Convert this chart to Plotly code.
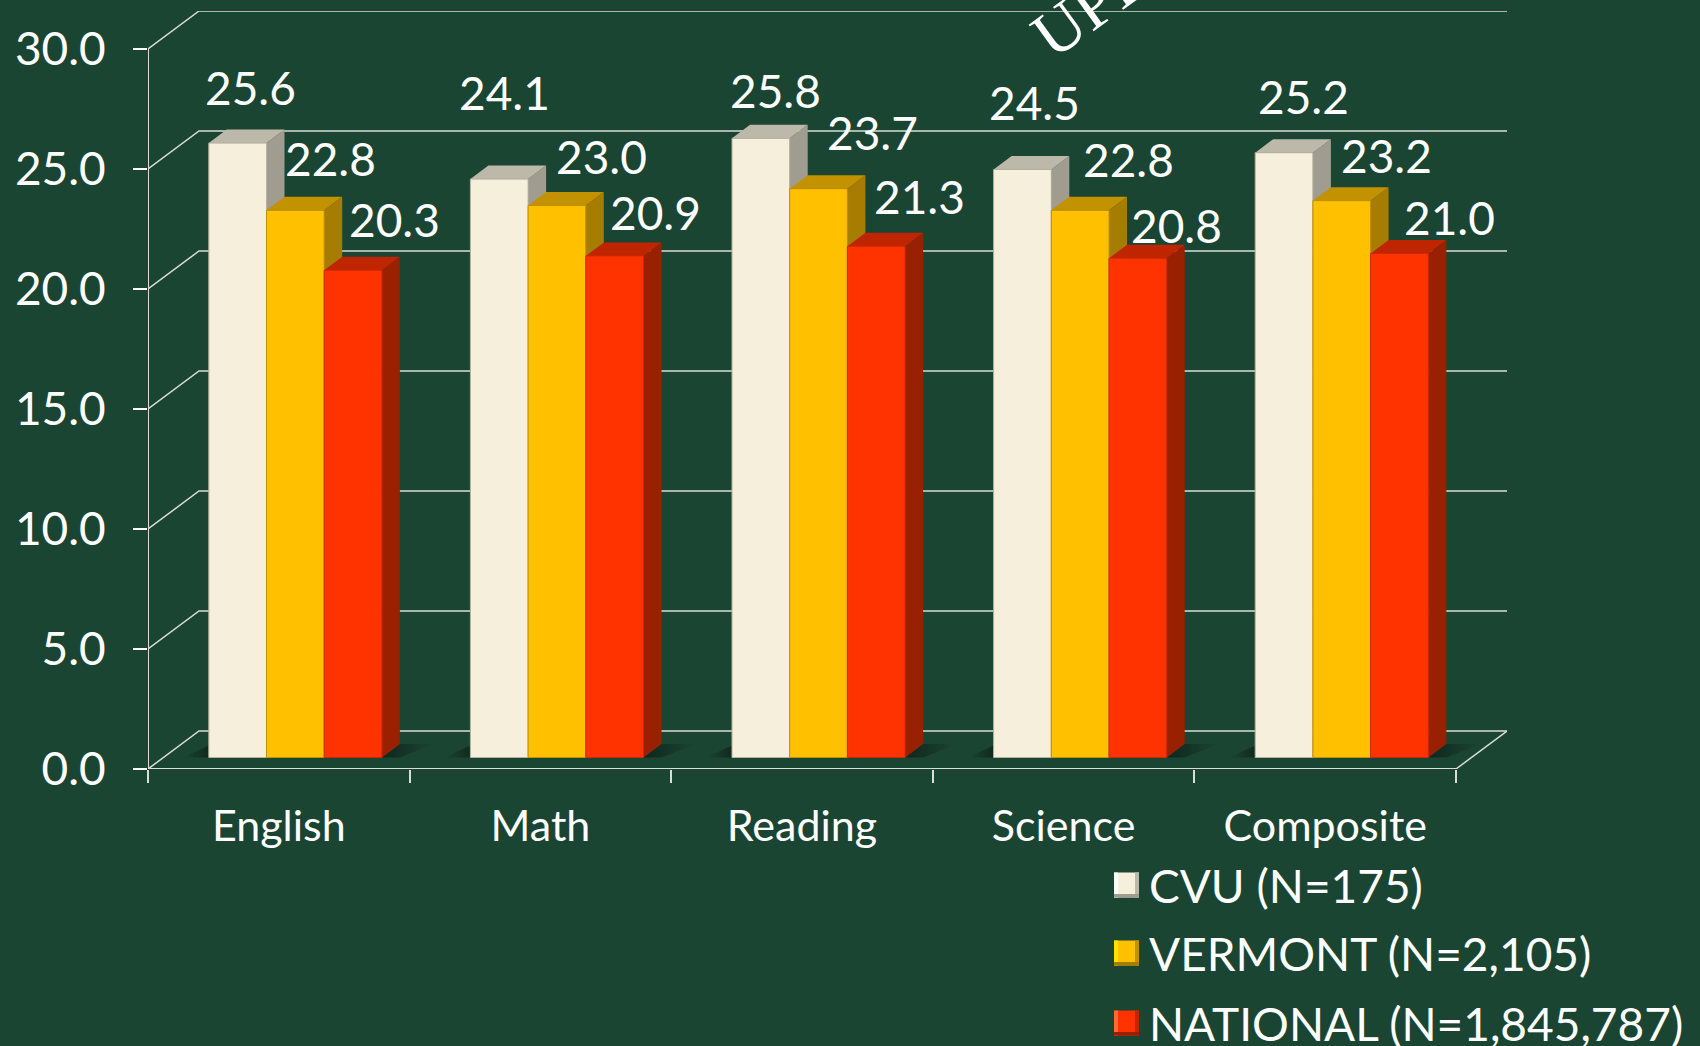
import plotly.graph_objects as go

categories = ["English", "Math", "Reading", "Science", "Composite"]
cvu = [25.6, 24.1, 25.8, 24.5, 25.2]
vermont = [22.8, 23.0, 23.7, 22.8, 23.2]
national = [20.3, 20.9, 21.3, 20.8, 21.0]
series_names = ["CVU (N=175)", "VERMONT (N=2,105)", "NATIONAL (N=1,845,787)"]
y_ticks = [0, 5, 10, 15, 20, 25, 30]

# style
BG = "#1B4533"
WHITE = "#FFFFFF"
GRID = "#DADDD8"
FONT = "Lato"
front = ["#F6EFDC", "#FFC000", "#FF3300"]
top_c = ["#BDB9AA", "#C29200", "#BF2600"]
side_c = ["#A09C8F", "#A67D00", "#992000"]
edge = ["#B5B09F", "#BF9000", "#CC2900"]
swatch_light = ["#FFFFFF", "#FFE000", "#FF6A33"]
lab_dx = [[12.5, 35.5, 41], [5, 45, 41], [15, 54, 43], [12, 48, 39], [19, 45, 50]]
lab_dy = [[55.5, 51.5, 50.5], [86.5, 49, 43.5], [47.5, 56.5, 49.5], [67.5, 50.5, 32.5], [56.5, 45.5, 36.5]]

# geometry in pixels, converted through the axis scales
W, H = 1700, 1046
L, R, T, B = 148, 1507, 11, 769
PX_X = (1456 - 148) / 5
PX_Y = 24.0
xmax = (R - L) / PX_X
ymax = (B - T) / PX_Y
wall_dx, wall_dy = 51 / PX_X, 38 / PX_Y
bar_dx, bar_dy = 18 / PX_X, 13.5 / PX_Y
floor = 11.5 / PX_Y
bar_w = 57.7 / PX_X
start = 60.8 / PX_X


def px(x):
    return (x - L) / (R - L)


def py(y):
    return (B - y) / (B - T)


values = [cvu, vermont, national]
fig = go.Figure()

# back wall + side wall + floor lines
gx, gy = [], []
for v in y_ticks:
    gx += [0, wall_dx, 5 + wall_dx, None]
    gy += [v, v + wall_dy, v + wall_dy, None]
gx += [5, 5 + wall_dx, None]
gy += [0, wall_dy, None]
fig.add_trace(go.Scatter(x=gx, y=gy, mode="lines", line=dict(color=GRID, width=1.5),
                         hoverinfo="skip", showlegend=False))
# axis lines
fig.add_trace(go.Scatter(x=[0, 0, None, 0, 5], y=[0, 30, None, 0, 0], mode="lines",
                         line=dict(color=GRID, width=2), hoverinfo="skip", showlegend=False))

# floor shadows
for i in range(5):
    x0 = i + start
    x1 = x0 + 3 * bar_w
    fig.add_trace(go.Scatter(
        x=[x0 - 0.1, x0, x0, x0 - 0.1], y=[floor, floor, floor + 0.5, floor], fill="toself", mode="none",
        fillgradient=dict(type="horizontal", start=x0 - 0.1, stop=x0,
                          colorscale=[[0, "rgba(15,40,30,0)"], [1, "rgba(15,40,30,0.95)"]]),
        hoverinfo="skip", showlegend=False))
    fig.add_trace(go.Scatter(
        x=[x1, x1 + bar_dx, x1 + 0.2, x1 + bar_dx, x1], y=[floor, floor + bar_dy, floor + bar_dy, floor, floor],
        fill="toself", mode="none",
        fillgradient=dict(type="horizontal", start=x1 + 0.02, stop=x1 + 0.2,
                          colorscale=[[0, "rgba(15,40,30,0.95)"], [1, "rgba(15,40,30,0)"]]),
        hoverinfo="skip", showlegend=False))

# top and side faces
for j, vals in enumerate(values):
    sx, sy, tx, ty = [], [], [], []
    for i, v in enumerate(vals):
        x0 = i + start + j * bar_w
        x1 = x0 + bar_w
        h = v + floor
        sx += [x1, x1 + bar_dx, x1 + bar_dx, x1, x1, None]
        sy += [floor, floor + bar_dy, h + bar_dy, h, floor, None]
        tx += [x0, x0 + bar_dx, x1 + bar_dx, x1, x0, None]
        ty += [h, h + bar_dy, h + bar_dy, h, h, None]
    fig.add_trace(go.Scatter(x=sx, y=sy, fill="toself", mode="none", fillcolor=side_c[j],
                             hoverinfo="skip", showlegend=False))
    fig.add_trace(go.Scatter(x=tx, y=ty, fill="toself", mode="none", fillcolor=top_c[j],
                             hoverinfo="skip", showlegend=False))

# front faces: real bars on an overlaying axis pair
for j, vals in enumerate(values):
    fig.add_trace(go.Bar(
        x=[i + start + (j + 0.5) * bar_w for i in range(5)], y=vals, base=floor, width=bar_w,
        name=series_names[j], marker=dict(color=front[j], line=dict(color=edge[j], width=1)),
        xaxis="x2", yaxis="y2", showlegend=False,
        customdata=categories, hovertemplate="%{customdata}: %{y:.1f}<extra>" + series_names[j] + "</extra>"))

annotations = []
for j, vals in enumerate(values):
    for i, v in enumerate(vals):
        annotations.append(dict(
            x=i + start + (j + 0.5) * bar_w, y=v + floor, xref="x", yref="y", text=f"{v:.1f}",
            showarrow=False, xanchor="center", yanchor="middle",
            xshift=lab_dx[i][j], yshift=lab_dy[i][j],
            font=dict(family=FONT, size=46, color=WHITE)))

# legend
leg_y = [885, 953, 1023]
shapes = []


def sw(x0, x1, y0, y1, color):
    return dict(type="rect", xref="paper", yref="paper", x0=px(x0), x1=px(x1),
                y0=py(y1), y1=py(y0), fillcolor=color, line=dict(width=0))


for j, name in enumerate(series_names):
    yc = leg_y[j]
    annotations.append(dict(x=px(1147), y=py(yc), xref="paper", yref="paper", text=name, showarrow=False,
                            xanchor="left", yanchor="middle", font=dict(family=FONT, size=46, color=WHITE)))
    shapes.append(sw(1114, 1139, yc - 12.5, yc + 12.5, front[j]))
    shapes.append(sw(1114, 1118, yc - 12.5, yc + 12.5, swatch_light[j]))
    shapes.append(sw(1135, 1139, yc - 12.5, yc + 12.5, top_c[j]))
    shapes.append(sw(1114, 1139, yc + 9, yc + 12.5, side_c[j]))

# cropped watermark word at the top
annotations.append(dict(x=px(1093), y=py(3), xref="paper", yref="paper", text="UPD", showarrow=False,
                        textangle=-36, xanchor="center", yanchor="middle",
                        font=dict(family="Liberation Serif", size=66, color=WHITE)))

fig.update_layout(
    width=W, height=H, autosize=False,
    margin=dict(l=L, r=W - R, t=T, b=H - B),
    paper_bgcolor=BG, plot_bgcolor=BG,
    barmode="overlay", showlegend=False,
    xaxis=dict(range=[0, xmax], tickmode="array", tickvals=list(range(6)), ticktext=[""] * 6,
               ticks="outside", ticklen=13, tickwidth=2, tickcolor=GRID,
               showgrid=False, zeroline=False, showline=False),
    yaxis=dict(range=[0, ymax], tickmode="array", tickvals=y_ticks, ticktext=[f"{v:.1f}" for v in y_ticks],
               ticks="outside", ticklen=14, tickwidth=2, tickcolor=WHITE, ticklabelstandoff=18,
               tickfont=dict(family=FONT, size=46, color=WHITE),
               showgrid=False, zeroline=False, showline=False),
    xaxis2=dict(range=[0, xmax], overlaying="x", side="bottom", tickmode="array",
                tickvals=[i + 0.5 for i in range(5)], ticktext=categories, ticks="",
                ticklabelstandoff=28, tickfont=dict(family=FONT, size=43, color=WHITE),
                showgrid=False, zeroline=False, showline=False),
    yaxis2=dict(range=[0, ymax], overlaying="y", visible=False),
    annotations=annotations, shapes=shapes,
    hoverlabel=dict(font=dict(family=FONT)),
)
fig.write_html("out.html", config=dict(displayModeBar=False),
               post_script="document.body.style.margin='0';document.body.style.overflow='hidden';")
